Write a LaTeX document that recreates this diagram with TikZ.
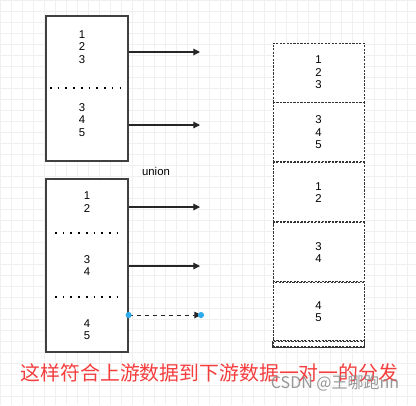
\documentclass[tikz,border=0pt]{standalone}
\usepackage{fontspec}
\setmainfont{Liberation Sans}
\newfontfamily\cjk{Noto Sans CJK SC}
\usetikzlibrary{arrows.meta,positioning}
\definecolor{gridgray}{rgb}{0.94,0.94,0.94}
\definecolor{notered}{rgb}{0.96,0.24,0.24}
\definecolor{handleblue}{rgb}{0.18,0.67,0.93}

\begin{document}
\begin{tikzpicture}[x=0.75pt,y=-0.75pt,font=\fontsize{8.5}{9.4}\selectfont,
   blk/.style={draw=black!75,fill=white,line width=0.9pt,minimum width=61.5pt,inner sep=0pt},
   cell/.style={draw=black!80,fill=white,dash pattern=on 1.6pt off 1pt,line width=0.7pt,
                minimum width=68.25pt,minimum height=44.25pt,inner sep=0pt,align=center},
   num/.style={align=center,inner sep=0pt},
   sep/.style={line width=1.2pt,dash pattern=on 1.2pt off 4.6pt},
   arr/.style={-{Triangle[length=5pt,width=5pt]},line width=0.8pt,black!85}]
  \useasboundingbox (0,0) rectangle (416,405);
  \fill[white] (0,0) rectangle (416,405);
  \draw[gridgray,line width=0.4pt,step=8.25pt] (0,0) grid (416,405);

  % upstream, first part
  \node[blk,minimum height=108.75pt] (topbox) at (87,88.5) {};
  \node[num] (ta) at (82,47) {1\\2\\3};
  \node[num] (tb) at (82,120) {3\\4\\5};
  \draw[sep] (50,88) -- (124,88);
  \coordinate (e1) at (200,52);
  \coordinate (e2) at (200,125);
  \draw[arr] (topbox.east |- e1) -- (e1);
  \draw[arr] (topbox.east |- e2) -- (e2);

  \node (un) at (156,171) {union};

  % upstream, second part
  \node[blk,minimum height=129.75pt] (botbox) at (87,265.5) {};
  \node[num] (ba) at (87,202) {1\\2};
  \node[num] (bb) at (87,265.5) {3\\4};
  \node[num] (bc) at (87,329.5) {4\\5};
  \draw[sep] (55,233) -- (117,233);
  \draw[sep] (55,297) -- (117,297);
  \coordinate (e3) at (200,207);
  \coordinate (e4) at (200,266);
  \coordinate (e5) at (201,315);
  \draw[arr] (botbox.east |- e3) -- (e3);
  \draw[arr] (botbox.east |- e4) -- (e4);
  \draw[arr,dashed,line width=0.7pt] (botbox.east |- e5) -- (e5);
  \fill[handleblue] (botbox.east |- e5) circle (2.3pt);
  \fill[handleblue] (e5) circle (2.3pt);

  % downstream
  \node[cell] (c1) at (318.5,72.5) {1\\2\\3};
  \node[cell,below=0pt of c1] (c2) {3\\4\\5};
  \node[cell,below=0pt of c2] (c3) {1\\2};
  \node[cell,below=0pt of c3] (c4) {3\\4};
  \node[cell,minimum height=43.5pt,below=0pt of c4] (c5) {4\\5};
  \node[cell,minimum height=3.75pt,below=0pt of c5] (c6) {};
  \draw[black!80,line width=0.9pt] (c6.north west) -- (c6.south west) -- (c6.south east) -- (c6.north east);

  \node[text=notered,font=\cjk\fontsize{14.9}{15}\selectfont] (note) at (209.5,373) {这样符合上游数据到下游数据一对一的分发};
  \node[text=black!45,opacity=0.9,font=\cjk\fontsize{12}{12}\selectfont] (mark) at (335,383) {CSDN @王哪跑nn};
\end{tikzpicture}
\end{document}
